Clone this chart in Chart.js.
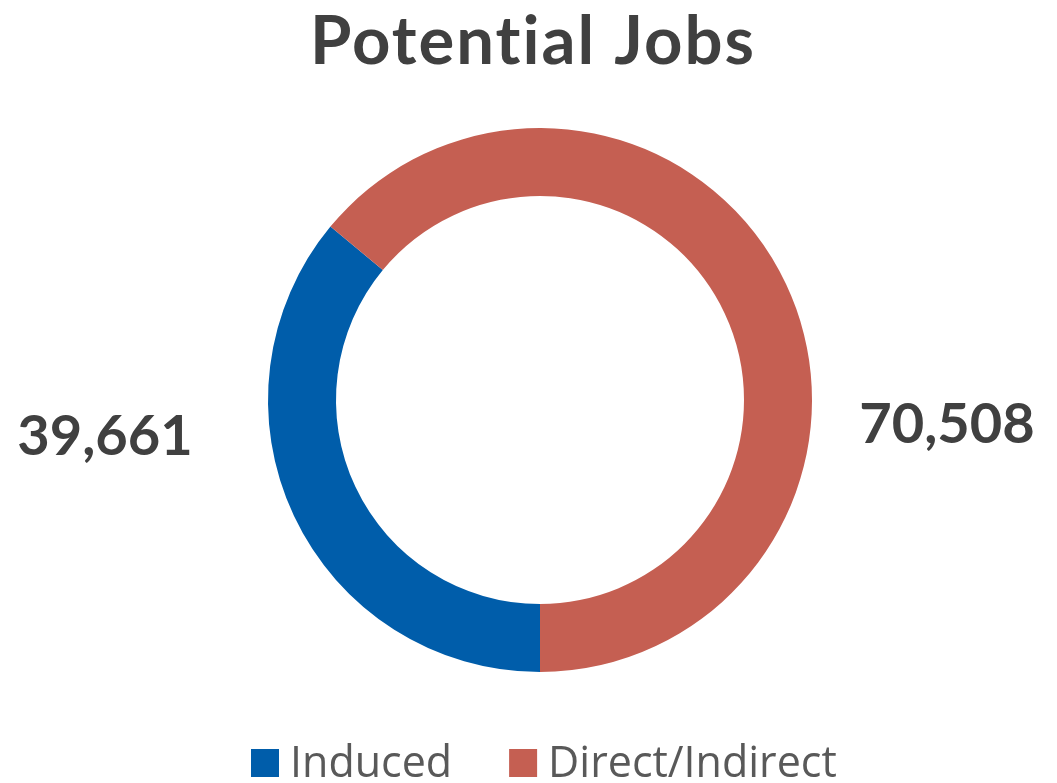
<!DOCTYPE html>
<html>
<head>
<meta charset="utf-8">
<script src="https://cdn.jsdelivr.net/npm/chart.js@4/dist/chart.umd.min.js"></script>
<style>
  html, body { margin: 0; padding: 0; background: #ffffff; }
  #wrap { width: 1057px; height: 783px; position: relative; }
</style>
</head>
<body>
<div id="wrap"><canvas id="jobs-chart"></canvas></div>
<script>
var chartTitle = 'Potential Jobs';
var categories = ['Induced', 'Direct/Indirect'];
var jobValues = [39661, 70508];
var sliceColors = ['#005daa', '#c55f52'];

// draws title, value labels and legend on top of the doughnut
var jobsLabels = {
  id: 'jobsLabels',
  afterDraw: function(chart) {
    var ctx = chart.ctx;
    var arc = chart.getDatasetMeta(0).data[0];
    var cx = arc.x, cy = arc.y;
    ctx.save();

    ctx.fillStyle = '#404040';
    ctx.textAlign = 'center';
    ctx.textBaseline = 'alphabetic';
    ctx.letterSpacing = '2px';
    ctx.font = 'bold 67px Lato';
    ctx.fillText(chartTitle, cx - 7, 64);
    ctx.letterSpacing = '0px';

    ctx.font = 'bold 56px Lato';
    ctx.fillText(jobValues[0].toLocaleString('en-US'), cx - 435, 455);
    ctx.fillText(jobValues[1].toLocaleString('en-US'), cx + 407, 443);

    // legend
    var x = 251;
    ctx.textAlign = 'left';
    ctx.font = '43px "Open Sans"';
    for (var i = 0; i < categories.length; i++) {
      ctx.fillStyle = sliceColors[i];
      ctx.fillRect(x, 749, 28, 28);
      ctx.fillStyle = '#595959';
      ctx.fillText(categories[i], x + 39, 777);
      x += 39 + ctx.measureText(categories[i]).width + 57;
    }
    ctx.restore();
  }
};

new Chart(document.getElementById('jobs-chart'), {
  type: 'doughnut',
  data: {
    labels: categories,
    datasets: [{
      data: jobValues,
      backgroundColor: sliceColors,
      borderWidth: 0
    }]
  },
  options: {
    responsive: true,
    maintainAspectRatio: false,
    animation: false,
    rotation: 180,
    cutout: '75%',
    layout: { padding: { top: 128, bottom: 111, left: 23, right: 0 } },
    plugins: {
      legend: { display: false },
      title: { display: false },
      tooltip: { enabled: false }
    }
  },
  plugins: [jobsLabels]
});
</script>
</body>
</html>
